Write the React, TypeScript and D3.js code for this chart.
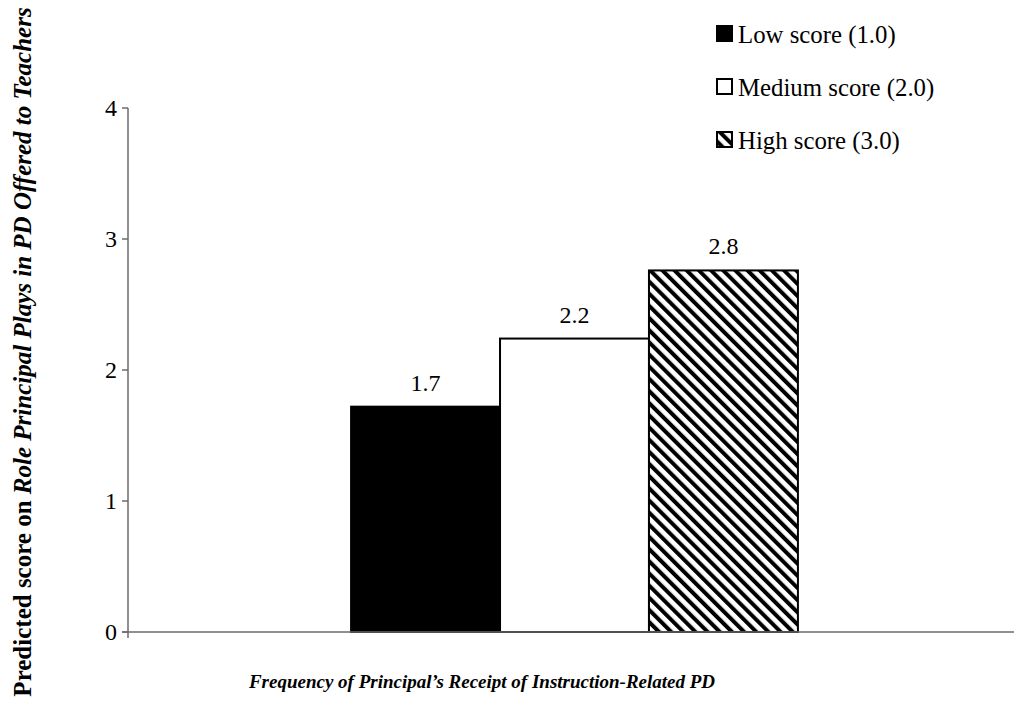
import React, { useEffect, useRef } from "react";
import * as d3 from "d3";

const categories = ["Frequency of Principal\u2019s Receipt of Instruction-Related PD"];
const seriesNames = ["Low score (1.0)", "Medium score (2.0)", "High score (3.0)"];
const seriesValues = [1.72, 2.24, 2.76];
const valueLabels = ["1.7", "2.2", "2.8"];
const yTicks = [0, 1, 2, 3, 4];

const W = 1015;
const H = 707;
const margin = { left: 128, right: 1, top: 108, bottom: 75 };
const FONT = '"Liberation Serif", "Times New Roman", Times, "DejaVu Serif", serif';

export default function App() {
  const svgRef = useRef<SVGSVGElement>(null);

  useEffect(() => {
    document.body.style.margin = "0";
    if (!svgRef.current) return;
    const svg = d3.select(svgRef.current);
    svg.selectAll("*").remove();

    // diagonal hatch, top-left to bottom-right
    const defs = svg.append("defs");
    const pat = defs
      .append("pattern")
      .attr("id", "hatch")
      .attr("patternUnits", "userSpaceOnUse")
      .attr("width", 8.6)
      .attr("height", 8.6)
      .attr("patternTransform", "rotate(-45)");
    pat.append("rect").attr("width", 8.6).attr("height", 8.6).attr("fill", "#fff");
    pat.append("rect").attr("x", 0).attr("width", 4).attr("height", 8.6).attr("fill", "#000");

    // shifted a little right so the group sits where the original does
    const x0 = d3
      .scaleBand<string>()
      .domain(categories)
      .range([margin.left, W + 6])
      .paddingInner(0.333)
      .paddingOuter(0.333);
    const x1 = d3.scaleBand<string>().domain(seriesNames).range([0, x0.bandwidth()]);
    const y = d3.scaleLinear().domain([0, 4]).range([H - margin.bottom, margin.top]);

    const fills = ["#000", "#fff", "url(#hatch)"];

    const txt = (sel: any, size: number) =>
      sel.style("font-family", FONT).style("font-size", `${size}px`);

    // bars
    const g = svg.append("g");
    seriesNames.forEach((s, i) => {
      const bx = (x0(categories[0]) ?? 0) + (x1(s) ?? 0);
      g.append("rect")
        .attr("x", bx)
        .attr("y", y(seriesValues[i]))
        .attr("width", x1.bandwidth())
        .attr("height", y(0) - y(seriesValues[i]))
        .attr("fill", fills[i])
        .attr("stroke", "#000")
        .attr("stroke-width", 2);
      txt(
        g.append("text")
          .attr("x", bx + x1.bandwidth() / 2)
          .attr("y", y(seriesValues[i]) - 16)
          .attr("text-anchor", "middle"),
        24
      ).text(valueLabels[i]);
    });

    // axes
    const axisColor = "#6b6b6b";
    svg
      .append("line")
      .attr("x1", margin.left)
      .attr("x2", margin.left)
      .attr("y1", y(4))
      .attr("y2", y(0) + 6)
      .attr("stroke", axisColor)
      .attr("stroke-width", 1.5);
    svg
      .append("line")
      .attr("x1", margin.left - 6)
      .attr("x2", W - margin.right)
      .attr("y1", y(0))
      .attr("y2", y(0))
      .attr("stroke", axisColor)
      .attr("stroke-width", 1.5);
    yTicks.forEach((t) => {
      svg
        .append("line")
        .attr("x1", margin.left - 6)
        .attr("x2", margin.left)
        .attr("y1", y(t))
        .attr("y2", y(t))
        .attr("stroke", axisColor)
        .attr("stroke-width", 1.5);
      txt(
        svg
          .append("text")
          .attr("x", margin.left - 11)
          .attr("y", y(t) + 8)
          .attr("text-anchor", "end"),
        24
      ).text(String(t));
    });

    // axis titles
    txt(svg.append("text").attr("x", 482).attr("y", 688).attr("text-anchor", "middle"), 19)
      .style("font-weight", "bold")
      .style("font-style", "italic")
      .text(categories[0]);

    const yt = txt(
      svg
        .append("text")
        .attr("transform", "translate(31,352) rotate(-90)")
        .attr("text-anchor", "middle"),
      25
    ).style("font-weight", "bold");
    yt.append("tspan").text("Predicted score on ");
    yt.append("tspan").style("font-style", "italic").text("Role Principal Plays in PD Offered to Teachers");

    // legend
    const legend = svg.append("g").attr("transform", "translate(716,25)");
    seriesNames.forEach((s, i) => {
      const row = legend.append("g").attr("transform", `translate(0,${i * 53})`);
      row
        .append("rect")
        .attr("x", 1)
        .attr("y", 1)
        .attr("width", 15)
        .attr("height", 15)
        .attr("fill", fills[i])
        .attr("stroke", "#000")
        .attr("stroke-width", 2);
      txt(row.append("text").attr("x", 22).attr("y", 18), 24.8).text(s);
    });
  }, []);

  return <svg ref={svgRef} width={W} height={H} style={{ display: "block", background: "#fff" }} />;
}
